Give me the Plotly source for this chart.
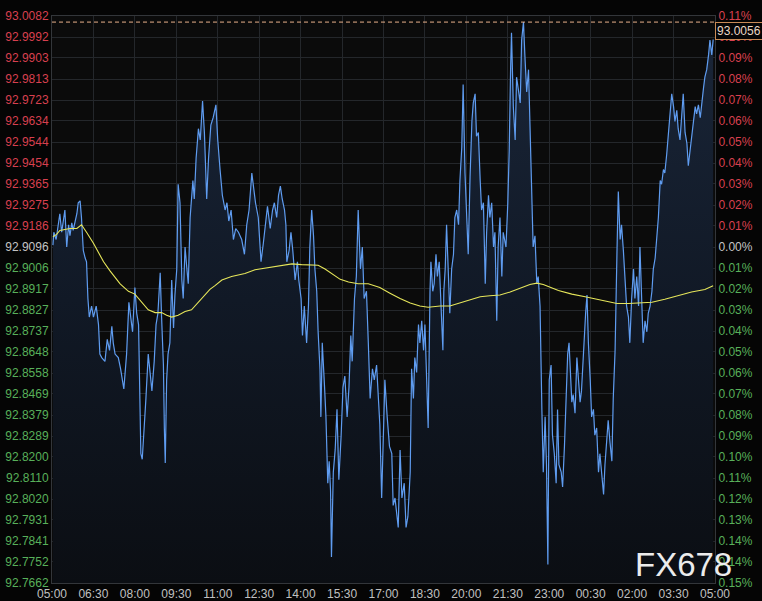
import plotly.graph_objects as go

# ---------------- data (minutes after 05:00, price) ----------------
price_minutes = [
    2, 4, 9, 14, 17, 21, 25, 28, 32, 36,
    39, 43, 46, 50, 54, 57, 61, 64, 68, 72,
    75, 78, 81, 86, 90, 96, 101, 104, 108, 115,
    120, 125, 130, 133, 137, 144, 149, 156, 162, 167,
    171, 175, 180, 184, 188, 190, 193, 196, 200, 204,
    209, 213, 217, 222, 226, 230, 235, 238, 242, 244,
    246, 249, 252, 256, 260, 264, 267, 271, 274, 278,
    282, 285, 289, 293, 296, 300, 306, 309, 313, 318,
    322, 327, 331, 336, 340, 345, 350, 356,
    360, 365, 370, 376, 380, 384, 389, 394, 399, 405,
    412, 418, 423, 428, 434, 437, 442, 448, 454, 459,
    464, 468, 474, 479, 483, 488, 492, 496, 500, 505,
    508, 510, 515, 519, 523, 528, 533, 536, 541, 544,
    548, 553, 557, 560, 564, 568, 571, 575, 578, 582,
    584, 587, 592, 595, 599, 602, 605, 607, 611, 615,
    619, 623, 628, 632, 636, 641, 645, 649, 652, 657,
    661, 665, 670, 674, 678, 683, 687, 691, 696, 700,
    705, 709, 712, 716,
    723, 728, 733, 738, 741, 745, 749, 752, 756, 760,
    765, 769, 773, 778, 781, 785, 788, 792, 796, 799,
    803, 807, 810, 814, 817, 821, 823, 827, 830, 834,
    837, 841, 845, 849, 851, 854, 857, 861, 864, 868,
    872, 875, 879, 883, 886, 890, 893, 897, 901, 904,
    908, 912, 915, 919, 922, 926, 930, 933, 937, 941,
    944, 948, 951, 955, 959, 962, 966, 969, 973, 977,
    980, 986, 990, 993, 996, 998, 1002, 1006, 1009, 1013,
    1017, 1020, 1024, 1027, 1031, 1035, 1038, 1042, 1045, 1049,
    1053, 1056, 1060, 1064, 1067, 1071,
    1074, 1077, 1080, 1084, 1087, 1091, 1095, 1098, 1101, 1106,
    1109, 1113, 1116, 1120, 1123, 1126, 1129, 1132, 1136, 1140,
    1143, 1147, 1150, 1155, 1159, 1162, 1165, 1169, 1172, 1176,
    1179, 1183, 1187, 1190, 1194, 1198, 1201, 1205, 1208, 1212,
    1216, 1219, 1223, 1227, 1230, 1234, 1237, 1241, 1245, 1248,
    1252, 1255, 1259, 1263, 1266, 1270, 1274, 1277, 1281, 1284,
    1288, 1292, 1295, 1299, 1303, 1306, 1310, 1313, 1317, 1321,
    1324, 1328, 1331, 1335, 1339, 1342, 1346, 1350, 1353, 1357,
    1360, 1364, 1368, 1371, 1375, 1379, 1382, 1386, 1389, 1393,
    1397, 1400, 1404, 1408, 1411, 1415, 1418, 1422, 1426, 1429,
    1433, 1436,
]

price_values = [
    92.9104, 92.9159, 92.9128, 92.9191, 92.9238, 92.9159, 92.9222, 92.9254, 92.9096, 92.9191,
    92.9144, 92.9199, 92.9167, 92.9207, 92.9238, 92.9285, 92.9293, 92.9222, 92.9081, 92.9049,
    92.9033, 92.8876, 92.8797, 92.8844, 92.8797, 92.8844, 92.8765, 92.8639, 92.8624, 92.8608,
    92.8702, 92.8655, 92.8758, 92.8687, 92.8639, 92.8624, 92.8576, 92.8490, 92.8639, 92.8860,
    92.8797, 92.8734, 92.8923, 92.8813, 92.8765, 92.8450, 92.8214, 92.8190, 92.8308, 92.8450,
    92.8639, 92.8545, 92.8482, 92.8608, 92.8765, 92.8813, 92.8986, 92.8797, 92.8592, 92.8324,
    92.8174, 92.8529, 92.8639, 92.8687, 92.8955, 92.8750, 92.8891, 92.9002, 92.9364, 92.9285,
    92.8955, 92.8876, 92.9096, 92.9002, 92.8939, 92.9222, 92.9380, 92.9301, 92.9475, 92.9601,
    92.9553, 92.9719, 92.9585, 92.9301, 92.9475, 92.9616, 92.9648, 92.9703,
    92.9553, 92.9427, 92.9317, 92.9254, 92.9285, 92.9207, 92.9254, 92.9128, 92.9175, 92.9159,
    92.9128, 92.9065, 92.9191, 92.9254, 92.9412, 92.9364, 92.9285, 92.9222, 92.9033, 92.9112,
    92.9207, 92.9270, 92.9175, 92.9254, 92.9285, 92.9222, 92.9317, 92.9356, 92.9301, 92.9254,
    92.9191, 92.9033, 92.9081, 92.9159, 92.9081, 92.8955, 92.9033, 92.8955, 92.8876, 92.8718,
    92.8844, 92.8687, 92.8844, 92.9096, 92.9254, 92.9144, 92.9002, 92.8907, 92.8734, 92.8576,
    92.8371, 92.8687, 92.8497, 92.8371, 92.8088, 92.8182, 92.8056, 92.7773, 92.8135, 92.8230,
    92.8403, 92.8103, 92.8293, 92.8497, 92.8545, 92.8371, 92.8497, 92.8718, 92.8608, 92.8876,
    92.8970, 92.9254, 92.9002, 92.9096, 92.8876, 92.8907, 92.8687, 92.8450, 92.8576, 92.8529,
    92.8592, 92.8450, 92.8340, 92.8025,
    92.8529, 92.8371, 92.8245, 92.8214, 92.7993, 92.8025, 92.7946, 92.7899, 92.8230, 92.8025,
    92.8088, 92.7899, 92.7946, 92.8135, 92.8576, 92.8450, 92.8624, 92.8561, 92.8765, 92.8687,
    92.8781, 92.8655, 92.8765, 92.8529, 92.8324, 92.8907, 92.9033, 92.8907, 92.8939, 92.9065,
    92.8970, 92.9033, 92.8844, 92.8655, 92.8907, 92.9002, 92.9191, 92.9002, 92.8813, 92.9002,
    92.9065, 92.9222, 92.9254, 92.9191, 92.9380, 92.9522, 92.9790, 92.9412, 92.9159, 92.9065,
    92.9396, 92.9632, 92.9711, 92.9750, 92.9569, 92.9585, 92.9380, 92.9254, 92.9285, 92.8939,
    92.9159, 92.9317, 92.9222, 92.9285, 92.9096, 92.9159, 92.8781, 92.9096, 92.9222, 92.8970,
    92.9159, 92.9096, 92.9285, 92.9506, 92.9853, 93.0010, 92.9695, 92.9553, 92.9821, 92.9774,
    92.9711, 92.9979, 93.0056, 92.9916, 92.9758, 92.9853, 92.9632, 92.9270, 92.9096, 92.9144,
    92.8939, 92.8970, 92.8844, 92.8403, 92.8135, 92.8371,
    92.8167, 92.7741, 92.8529, 92.8592, 92.8293, 92.8214, 92.8088, 92.8403, 92.8167, 92.8135,
    92.8072, 92.8245, 92.8450, 92.8639, 92.8687, 92.8529, 92.8434, 92.8466, 92.8387, 92.8624,
    92.8529, 92.8434, 92.8482, 92.8687, 92.8813, 92.8891, 92.8687, 92.8529, 92.8371, 92.8403,
    92.8293, 92.8324, 92.8135, 92.8214, 92.8119, 92.8040, 92.8167, 92.8293, 92.8356, 92.8261,
    92.8182, 92.8450, 92.8655, 92.9065, 92.9333, 92.9128, 92.9191, 92.9081, 92.8970, 92.8844,
    92.8797, 92.8687, 92.8876, 92.9002, 92.8876, 92.8970, 92.8844, 92.9096, 92.8860, 92.8687,
    92.8781, 92.8734, 92.8813, 92.8844, 92.8907, 92.9002, 92.9049, 92.9112, 92.9222, 92.9380,
    92.9364, 92.9427, 92.9412, 92.9490, 92.9585, 92.9679, 92.9750, 92.9695, 92.9632, 92.9679,
    92.9601, 92.9553, 92.9648, 92.9750, 92.9585, 92.9538, 92.9443, 92.9506, 92.9569, 92.9632,
    92.9695, 92.9664, 92.9703, 92.9648, 92.9711, 92.9774, 92.9821, 92.9853, 92.9916, 92.9979,
    92.9916, 92.9982,
]

ma_minutes = [
    2, 10, 17, 39, 54, 64, 75, 90, 112, 126,
    148, 166, 180, 195, 209, 224, 238, 249, 260, 274,
    289, 303, 314, 329, 343, 354, 369, 390, 419, 441,
    470, 499, 521, 542, 564, 578, 593, 607, 626, 644,
    665, 687, 702, 712, 734, 756, 778, 799, 817, 843,
    864, 886, 908, 930, 951, 973, 995, 1017, 1038, 1053,
    1067, 1100, 1129, 1158, 1187, 1216, 1227, 1252, 1281, 1303,
    1331, 1360, 1389, 1418, 1436,
]

ma_values = [
    92.9140, 92.9150, 92.9167, 92.9175, 92.9175, 92.9191, 92.9159, 92.9112, 92.9033, 92.8994,
    92.8939, 92.8907, 92.8895, 92.8860, 92.8828, 92.8816, 92.8816, 92.8805, 92.8797, 92.8805,
    92.8821, 92.8828, 92.8852, 92.8884, 92.8915, 92.8931, 92.8955, 92.8970, 92.8983, 92.8999,
    92.9007, 92.9018, 92.9024, 92.9021, 92.9018, 92.9018, 92.9002, 92.8983, 92.8958, 92.8947,
    92.8939, 92.8939, 92.8931, 92.8923, 92.8899, 92.8876, 92.8857, 92.8844, 92.8839, 92.8844,
    92.8844, 92.8857, 92.8868, 92.8884, 92.8888, 92.8891, 92.8904, 92.8920, 92.8936, 92.8942,
    92.8936, 92.8910, 92.8895, 92.8884, 92.8873, 92.8860, 92.8855, 92.8855, 92.8857, 92.8860,
    92.8873, 92.8888, 92.8904, 92.8915, 92.8931,
]

price_tick_labels = [
    "93.0082", "92.9992", "92.9903", "92.9813", "92.9723", "92.9634", "92.9544",
    "92.9454", "92.9365", "92.9275", "92.9186", "92.9096", "92.9006", "92.8917",
    "92.8827", "92.8737", "92.8648", "92.8558", "92.8469", "92.8379", "92.8289",
    "92.8200", "92.8110", "92.8020", "92.7931", "92.7841", "92.7752", "92.7662",
]

pct_tick_labels = [
    "0.11%", "0.10%", "0.09%", "0.08%", "0.07%", "0.06%", "0.05%",
    "0.04%", "0.03%", "0.02%", "0.01%", "0.00%", "0.01%", "0.02%",
    "0.03%", "0.04%", "0.05%", "0.06%", "0.07%", "0.08%", "0.09%",
    "0.10%", "0.11%", "0.12%", "0.13%", "0.14%", "0.14%", "0.15%",
]

time_tick_labels = [
    "05:00", "06:30", "08:00", "09:30", "11:00", "12:30", "14:00", "15:30", "17:00",
    "18:30", "20:00", "21:30", "23:00", "00:30", "02:00", "03:30", "05:00",
]

base_price = 92.9096
last_price = 93.0056
watermark = "FX678"

# ---------------- styling ----------------
RED = "#d8404f"
GREEN = "#58b05a"
GREY = "#c4c4c4"
FONT = "Liberation Sans, Arial, sans-serif"
PAGE_BG = "#050505"

tick_vals = [float(s) for s in price_tick_labels]


def colored(label, val):
    if abs(val - base_price) < 1e-9:
        c = GREY
    elif val > base_price:
        c = RED
    else:
        c = GREEN
    return f'<span style="color:{c}">{label}</span>'


left_text = [colored(s, v) for s, v in zip(price_tick_labels, tick_vals)]
right_text = [colored(s, v) for s, v in zip(pct_tick_labels, tick_vals)]

y_lo, y_hi = tick_vals[-1], tick_vals[0]
x_ticks = [i * 90 for i in range(len(time_tick_labels))]

fig = go.Figure()

fig.add_trace(go.Scatter(
    x=price_minutes, y=price_values, mode="lines",
    line=dict(color="#5f9cf0", width=1.2),
    fill="tozeroy",
    fillgradient=dict(type="vertical", start=y_lo, stop=y_hi,
                      colorscale=[[0, "#0b0e13"], [0.5, "#111926"], [1, "#1a2639"]]),
    hoverinfo="skip", showlegend=False,
))

fig.add_trace(go.Scatter(
    x=ma_minutes, y=ma_values, mode="lines",
    line=dict(color="#e6e65a", width=1.1),
    hoverinfo="skip", showlegend=False,
))

fig.add_trace(go.Scatter(x=[], y=[], yaxis="y2", showlegend=False, hoverinfo="skip"))

fig.add_hline(y=last_price, line=dict(color="#e8b08a", width=1, dash="4px,3px"))

fig.add_annotation(
    text=f"{last_price:.4f}", xref="paper", yref="y",
    x=1, y=last_price, xanchor="left", yanchor="top", xshift=0,
    showarrow=False, font=dict(family=FONT, size=12, color="#ead8c6"),
    bgcolor=PAGE_BG, bordercolor="#c98a55", borderwidth=1, borderpad=1,
)

fig.add_annotation(
    text=watermark, xref="paper", yref="paper", x=1, y=0,
    xanchor="right", yanchor="bottom", xshift=19, yshift=-2,
    showarrow=False, font=dict(family=FONT, size=33, color="#ececec"),
)

fig.update_layout(
    width=762, height=601,
    margin=dict(l=52, r=47, t=16, b=18),
    paper_bgcolor=PAGE_BG,
    plot_bgcolor="#0b0b0b",
    font=dict(family=FONT, size=12, color=GREY),
    xaxis=dict(
        range=[0, 1440], tickmode="array", tickvals=x_ticks, ticktext=time_tick_labels,
        showgrid=True, gridcolor="#24272b", gridwidth=1, zeroline=False,
        showline=True, linecolor="#33363a", mirror=True, automargin=False,
        tickfont=dict(family=FONT, size=12, color="#c0c0c0"), ticks="", ticklen=0,
    ),
    yaxis=dict(
        range=[y_lo, y_hi], tickmode="array", tickvals=tick_vals, ticktext=left_text,
        showgrid=True, gridcolor="#24272b", gridwidth=1, zeroline=False,
        showline=True, linecolor="#33363a", automargin=False,
        tickfont=dict(family=FONT, size=12), ticks="", side="left",
    ),
    yaxis2=dict(
        range=[y_lo, y_hi], overlaying="y", side="right", tickmode="array",
        tickvals=tick_vals, ticktext=right_text, showgrid=False, zeroline=False,
        showline=True, linecolor="#33363a", automargin=False,
        tickfont=dict(family=FONT, size=12), ticks="",
    ),
)

fig.write_html(
    "out.html",
    config={"displayModeBar": False},
    post_script=(
        "document.body.style.margin='0';"
        "document.body.style.padding='0';"
        f"document.body.style.background='{PAGE_BG}';"
        "document.documentElement.style.overflow='hidden';"
    ),
)
